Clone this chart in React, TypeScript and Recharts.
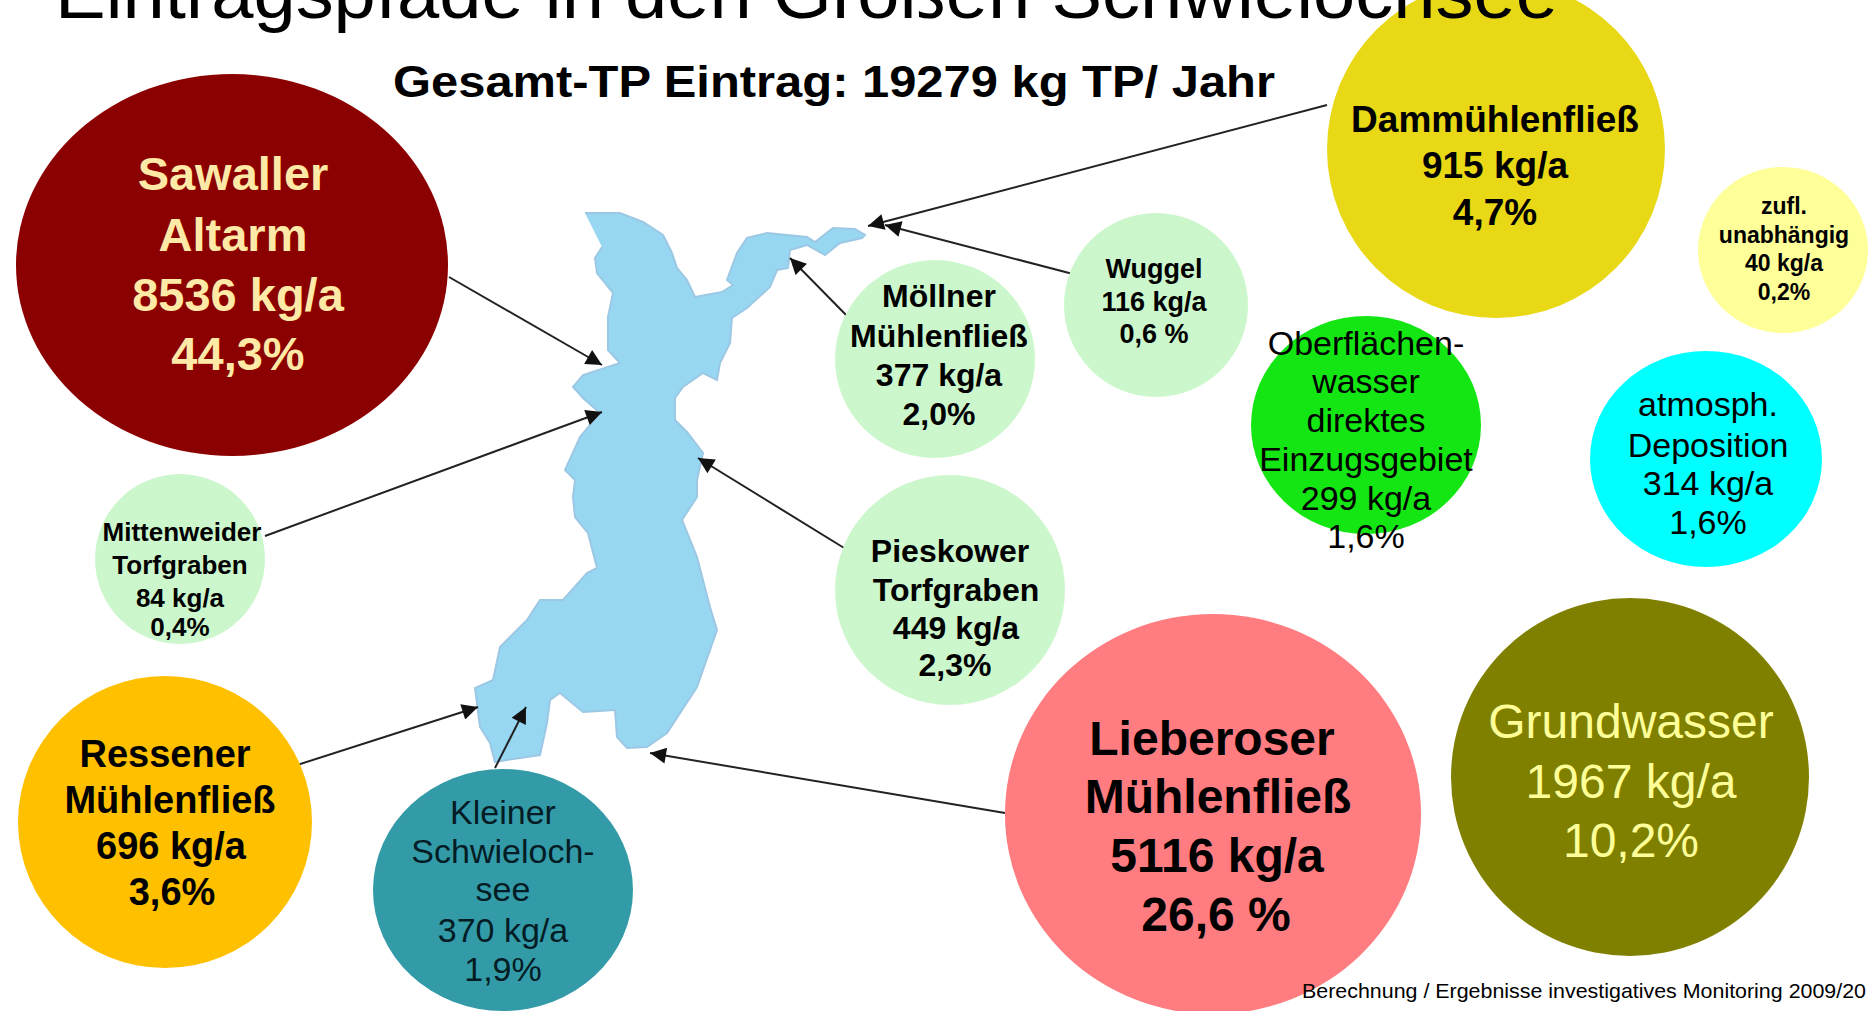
import React from 'react';
import { ScatterChart, Scatter, XAxis, YAxis } from 'recharts';

const W = 1869;
const H = 1011;

// Source names, loads and shares as printed in the picture
const bubbleLabels: string[][] = [
  ['Sawaller', 'Altarm', '8536 kg/a', '44,3%'],
  ['Ressener', 'Mühlenfließ', '696 kg/a', '3,6%'],
  ['Mittenweider', 'Torfgraben', '84 kg/a', '0,4%'],
  ['Kleiner', 'Schwieloch-', 'see', '370 kg/a', '1,9%'],
  ['Lieberoser', 'Mühlenfließ', '5116 kg/a', '26,6 %'],
  ['Grundwasser', '1967 kg/a', '10,2%'],
  ['Pieskower', 'Torfgraben', '449 kg/a', '2,3%'],
  ['Möllner', 'Mühlenfließ', '377 kg/a', '2,0%'],
  ['Wuggel', '116 kg/a', '0,6 %'],
  ['Oberflächen-', 'wasser', 'direktes', 'Einzugsgebiet', '299 kg/a', '1,6%'],
  ['Dammühlenfließ', '915 kg/a', '4,7%'],
  ['zufl.', 'unabhängig', '40 kg/a', '0,2%'],
  ['atmosph.', 'Deposition', '314 kg/a', '1,6%'],
];

// Bubble geometry, in picture units
const bubbleX = [232, 165, 180, 503, 1213, 1630, 950, 935, 1156, 1366, 1496, 1783, 1706];
const bubbleY = [265, 822, 559, 890, 814, 777, 590, 359, 305, 425, 149, 250, 459];
const bubbleRx = [216, 147, 85, 130, 208, 179, 115, 100, 92, 115, 169, 85, 116];
const bubbleRy = [191, 146, 85, 121, 200, 179, 115, 99, 92, 109, 169, 83, 108];

const labelX: number[][] = [
  [233, 233, 238, 238],
  [165, 170, 171, 172],
  [182, 180, 180, 180],
  [503, 503, 503, 503, 503],
  [1212, 1218, 1217, 1216],
  [1631, 1631, 1631],
  [950, 956, 956, 955],
  [939, 939, 939, 939],
  [1154, 1154, 1154],
  [1366, 1366, 1366, 1366, 1366, 1366],
  [1495, 1495, 1495],
  [1784, 1784, 1784, 1784],
  [1708, 1708, 1708, 1708],
];
const labelY: number[][] = [
  [173, 234, 294, 353],
  [754, 800, 846, 892],
  [532, 565, 598, 627],
  [812, 851, 889, 930, 969],
  [738, 796, 855, 914],
  [721, 781, 840],
  [551, 590, 628, 665],
  [296, 336, 375, 414],
  [269, 302, 334],
  [343, 381, 420, 459, 498, 536],
  [119, 165, 212],
  [206, 235, 263, 292],
  [404, 445, 483, 522],
];

const bubbleFill = ['#8b0000', '#ffc000', '#ccf7cc', '#339aa8', '#ff7c80', '#808000', '#ccf7cc', '#ccf7cc', '#ccf7cc', '#14e614', '#e8d815', '#ffff99', '#00ffff'];
const labelColour = ['#ffe9a6', '#000', '#000', '#041c24', '#000', '#ffff99', '#000', '#000', '#000', '#000', '#000', '#000', '#000'];
const labelSize = [47, 38, 26, 34, 48, 48, 32, 32, 27, 34, 37, 23, 34];
const labelWeight = [700, 700, 700, 400, 700, 400, 700, 700, 700, 400, 700, 700, 400];

// Lake outline
const lakeX = [585, 620, 643, 663, 672, 677, 687, 695, 722, 733, 727, 737, 747, 767, 807, 815, 833, 855, 865, 862, 840, 825, 807, 790, 788, 777, 770, 747, 732, 730, 720, 717, 703, 683, 675, 675, 687, 703, 697, 697, 682, 697, 710, 717, 710, 697, 667, 647, 627, 617, 615, 583, 560, 550, 547, 540, 507, 495, 490, 480, 475, 493, 500, 527, 540, 563, 587, 597, 588, 575, 573, 575, 565, 580, 600, 583, 573, 583, 620, 608, 608, 613, 597, 595, 602];
const lakeY = [213, 213, 222, 235, 253, 268, 280, 297, 292, 285, 280, 253, 238, 233, 237, 242, 228, 229, 235, 238, 243, 255, 245, 250, 268, 270, 287, 308, 318, 343, 363, 380, 373, 387, 398, 420, 432, 453, 480, 497, 520, 557, 607, 630, 650, 687, 733, 747, 748, 737, 710, 712, 693, 700, 723, 755, 760, 762, 743, 727, 688, 680, 647, 620, 600, 600, 573, 568, 533, 517, 497, 480, 470, 437, 413, 398, 387, 375, 363, 350, 317, 293, 273, 258, 247];

// Inflow arrows: start on the bubble, tip at the lake
const arrowStartX = [449, 265, 849, 851, 1073, 1327, 1005, 294, 495];
const arrowStartY = [277, 536, 551, 320, 274, 105, 813, 766, 768];
const arrowTipX = [602, 602, 698, 790, 885, 868, 650, 478, 526];
const arrowTipY = [365, 412, 458, 258, 225, 226, 753, 707, 707];

const titleText = 'Eintragspfade in den Großen Schwielochsee';
const subtitleText = 'Gesamt-TP Eintrag: 19279 kg TP/ Jahr';
const creditText = 'Berechnung / Ergebnisse investigatives Monitoring 2009/20';

const FONT = '"Liberation Sans", Arial, sans-serif';

const lakeData = lakeX.map((x, i) => ({ x, y: lakeY[i] }));
const bubbleData = bubbleX.map((x, i) => ({ x, y: bubbleY[i], rx: bubbleRx[i], ry: bubbleRy[i], fill: bubbleFill[i] }));
const labelData = bubbleLabels.flatMap((lines, i) =>
  lines.map((text, j) => ({
    x: labelX[i][j],
    y: labelY[i][j],
    text,
    color: labelColour[i],
    size: labelSize[i],
    weight: labelWeight[i],
  })),
);
const headingData = [
  { x: 55, y: 18, text: titleText, size: 72, weight: 400, len: 1503 },
  { x: 393, y: 97, text: subtitleText, size: 45, weight: 700, len: 882 },
  { x: 1302, y: 998, text: creditText, size: 21, weight: 400, len: 564 },
];

const Nothing = () => <g />;

const BubbleShape = (p: any) => (
  <ellipse cx={p.cx} cy={p.cy} rx={p.payload.rx} ry={p.payload.ry} fill={p.payload.fill} />
);

const LabelShape = (p: any) => (
  <text
    x={p.cx}
    y={p.cy}
    textAnchor="middle"
    dominantBaseline="central"
    fontFamily={FONT}
    fontSize={p.payload.size}
    fontWeight={p.payload.weight}
    fill={p.payload.color}
  >
    {p.payload.text}
  </text>
);

const HeadingShape = (p: any) => (
  <text
    x={p.cx}
    y={p.cy}
    fontFamily={FONT}
    fontSize={p.payload.size}
    fontWeight={p.payload.weight}
    fill="#000"
    textLength={p.payload.len}
    lengthAdjust="spacingAndGlyphs"
  >
    {p.payload.text}
  </text>
);

export default function App() {
  return (
    <div style={{ position: 'absolute', left: 0, top: 0, width: W, height: H, background: '#fff', overflow: 'hidden' }}>
      <ScatterChart width={W} height={H} margin={{ top: 0, right: 0, bottom: 0, left: 0 }}>
        <defs>
          <marker id="arrowHead" viewBox="0 0 10 10" refX="10" refY="5" markerUnits="userSpaceOnUse" markerWidth="18" markerHeight="16" orient="auto">
            <path d="M0 0 L10 5 L0 10 Z" fill="#111" />
          </marker>
        </defs>
        <XAxis type="number" dataKey="x" domain={[0, W]} hide />
        <YAxis type="number" dataKey="y" domain={[0, H]} reversed hide />
        <Scatter
          data={lakeData}
          isAnimationActive={false}
          line={{ fill: '#97d7f2', stroke: '#9cc8e4', strokeWidth: 2 }}
          shape={Nothing}
        />
        {arrowStartX.map((sx, i) => (
          <Scatter
            key={i}
            data={[
              { x: sx, y: arrowStartY[i] },
              { x: arrowTipX[i], y: arrowTipY[i] },
            ]}
            isAnimationActive={false}
            line={{ stroke: '#222', strokeWidth: 2, markerEnd: 'url(#arrowHead)' }}
            shape={Nothing}
          />
        ))}
        <Scatter data={bubbleData} isAnimationActive={false} shape={BubbleShape} />
        <Scatter data={labelData} isAnimationActive={false} shape={LabelShape} />
        <Scatter data={headingData} isAnimationActive={false} shape={HeadingShape} />
      </ScatterChart>
    </div>
  );
}
